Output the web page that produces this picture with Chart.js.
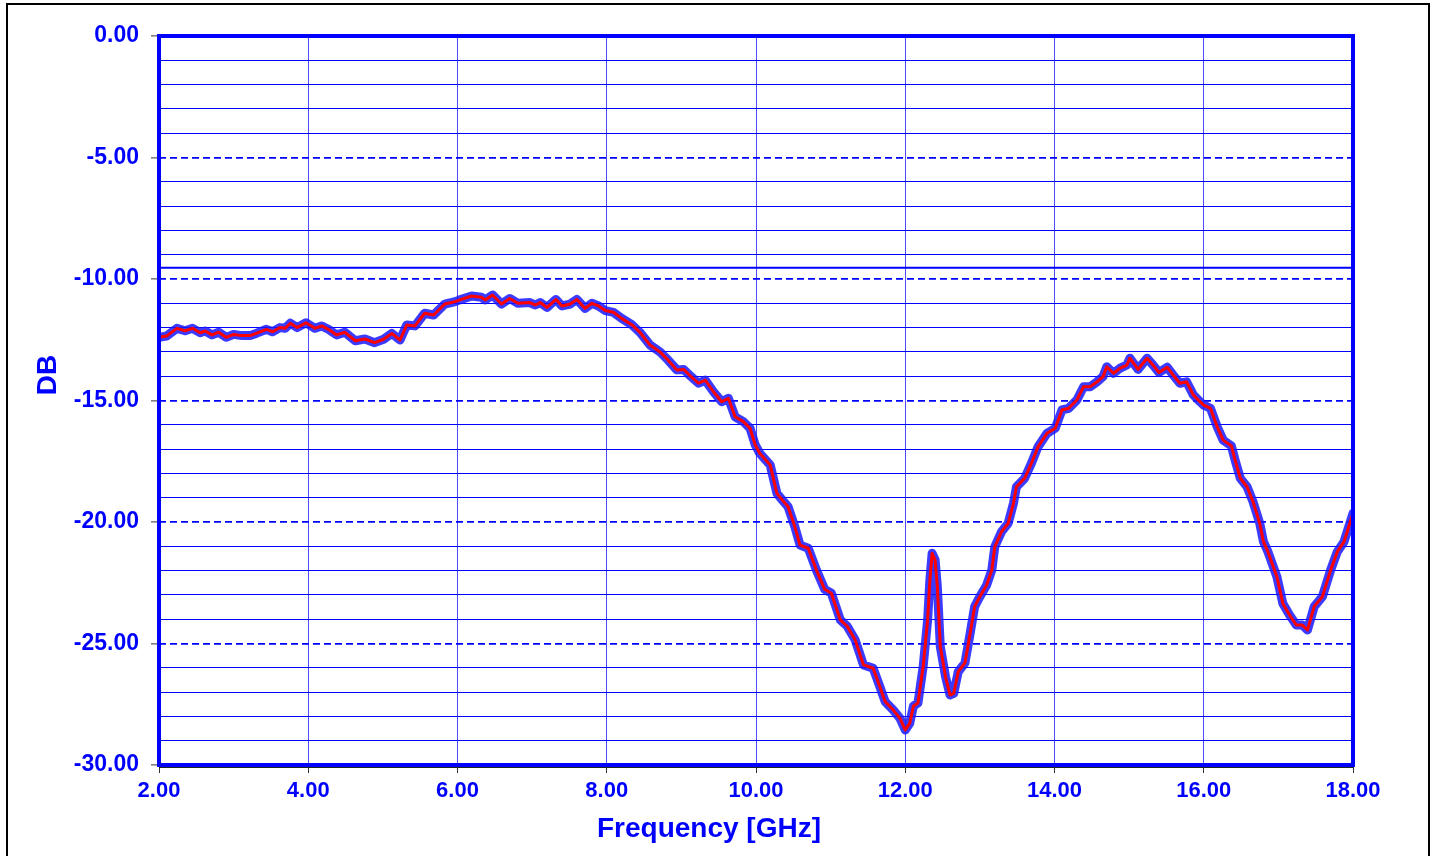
<!DOCTYPE html>
<html>
<head>
<meta charset="utf-8">
<script src="https://cdn.jsdelivr.net/npm/chart.js@4.4.1/dist/chart.umd.min.js"></script>
<style>
  body { margin: 0; background: #fff; }
  #wrap { position: relative; width: 1433px; height: 856px; }
  #frame { position: absolute; left: 6px; top: 3px; width: 1420px; height: 900px; border: 2px solid #000; pointer-events: none; }
</style>
</head>
<body>
<div id="wrap">
  <canvas id="rl"></canvas>
  <div id="frame"></div>
</div>
<script>
const freq = [
  2.00, 2.10, 2.24, 2.35, 2.45, 2.55, 2.62, 2.71, 2.80, 2.90,
  3.00, 3.11, 3.22, 3.31, 3.44, 3.52, 3.62, 3.69, 3.76, 3.85,
  3.97, 4.09, 4.18, 4.27, 4.38, 4.49, 4.63, 4.76, 4.89, 5.01,
  5.12, 5.23, 5.32, 5.43, 5.56, 5.68, 5.83, 5.97, 6.03, 6.19,
  6.32, 6.37, 6.47, 6.59, 6.70, 6.81, 6.97, 7.04, 7.11, 7.20,
  7.32, 7.40, 7.51, 7.60, 7.71, 7.80, 7.89, 7.98, 8.09, 8.20,
  8.34, 8.45, 8.58, 8.71, 8.82, 8.94, 9.03, 9.12, 9.23, 9.32,
  9.43, 9.54, 9.63, 9.72, 9.83, 9.92, 9.99, 10.05, 10.19, 10.28,
  10.37, 10.43, 10.52, 10.59, 10.70, 10.81, 10.92, 11.01, 11.13, 11.22,
  11.33, 11.44, 11.57, 11.66, 11.73, 11.84, 11.93, 12.00, 12.06, 12.11,
  12.17, 12.24, 12.30, 12.33, 12.36, 12.40, 12.43, 12.47, 12.54, 12.60,
  12.65, 12.71, 12.80, 12.87, 12.93, 13.00, 13.09, 13.16, 13.20, 13.29,
  13.38, 13.45, 13.49, 13.60, 13.69, 13.78, 13.90, 14.01, 14.10, 14.19,
  14.30, 14.39, 14.48, 14.57, 14.65, 14.70, 14.79, 14.88, 14.97, 15.01,
  15.12, 15.24, 15.32, 15.40, 15.51, 15.59, 15.68, 15.77, 15.86, 15.95,
  16.00, 16.09, 16.18, 16.26, 16.37, 16.42, 16.49, 16.58, 16.66, 16.75,
  16.80, 16.86, 16.98, 17.06, 17.15, 17.24, 17.32, 17.39, 17.48, 17.59,
  17.70, 17.79, 17.88, 18.00
];
const db = [
  -12.40, -12.35, -12.03, -12.13, -12.03, -12.21, -12.14, -12.30, -12.19, -12.40,
  -12.28, -12.33, -12.33, -12.23, -12.07, -12.17, -12.00, -12.03, -11.82, -12.00,
  -11.80, -12.03, -11.93, -12.07, -12.30, -12.19, -12.54, -12.47, -12.62, -12.48,
  -12.24, -12.51, -11.89, -11.93, -11.41, -11.48, -11.03, -10.93, -10.86, -10.70,
  -10.75, -10.86, -10.66, -11.03, -10.80, -11.00, -10.97, -11.07, -10.97, -11.17,
  -10.84, -11.11, -11.03, -10.84, -11.21, -11.00, -11.11, -11.30, -11.37, -11.62,
  -11.89, -12.21, -12.72, -12.99, -13.33, -13.74, -13.72, -13.99, -14.29, -14.16,
  -14.64, -15.05, -14.91, -15.67, -15.87, -16.14, -16.83, -17.17, -17.65, -18.82,
  -19.16, -19.37, -20.19, -20.95, -21.08, -21.98, -22.77, -22.93, -24.03, -24.28,
  -24.86, -25.88, -26.02, -26.78, -27.39, -27.74, -28.08, -28.56, -28.28, -27.57,
  -27.45, -25.95, -24.03, -22.39, -21.29, -21.56, -22.66, -25.13, -26.37, -27.12,
  -27.05, -26.16, -25.80, -24.58, -23.48, -23.07, -22.60, -21.98, -21.02, -20.40,
  -20.05, -19.23, -18.55, -18.20, -17.59, -16.90, -16.35, -16.14, -15.39, -15.32,
  -14.98, -14.43, -14.43, -14.23, -14.02, -13.61, -13.88, -13.67, -13.54, -13.26,
  -13.72, -13.26, -13.54, -13.85, -13.63, -13.95, -14.29, -14.23, -14.77, -15.05,
  -15.19, -15.32, -16.08, -16.63, -16.87, -17.45, -18.20, -18.55, -19.16, -20.05,
  -20.81, -21.22, -22.25, -23.35, -23.83, -24.24, -24.24, -24.44, -23.48, -23.07,
  -21.98, -21.22, -20.81, -19.64
];
// 2:1 VSWR reference level
const vswrLevel = -9.54;
const xRange = [2, 18];
const yRange = [-30, 0];

const BLUE = '#0000ff';
const FONT = "'Liberation Sans', Arial, sans-serif";

const pts = freq.map((f, i) => ({ x: f, y: db[i] }));

// frame round the plot area + axis titles
const frameAndTitles = {
  id: 'frameAndTitles',
  afterDatasetsDraw(chart) {
    const { ctx, chartArea: a } = chart;
    ctx.save();
    ctx.strokeStyle = '#222';
    ctx.lineWidth = 1;
    ctx.beginPath();
    ctx.moveTo(a.left, a.bottom + 2.5);
    ctx.lineTo(a.right, a.bottom + 2.5);
    ctx.stroke();
    ctx.strokeStyle = BLUE;
    ctx.lineWidth = 4;
    ctx.strokeRect(a.left, a.top, a.right - a.left, a.bottom - a.top);

    ctx.fillStyle = BLUE;
    ctx.font = 'bold 28px ' + FONT;
    ctx.textAlign = 'center';
    ctx.textBaseline = 'middle';
    ctx.fillText('Frequency [GHz]', 709, 829);
    ctx.translate(48, 375);
    ctx.rotate(-Math.PI / 2);
    ctx.fillText('DB', 0, 0);
    ctx.restore();
  }
};

new Chart(document.getElementById('rl'), {
  type: 'line',
  data: {
    datasets: [
      {
        data: pts,
        borderColor: '#ff0000',
        borderWidth: 3,
        borderJoinStyle: 'round',
        borderCapStyle: 'round',
        pointRadius: 0,
        tension: 0,
        order: 0
      },
      {
        data: pts,
        borderColor: 'rgba(25,25,255,0.85)',
        borderWidth: 9,
        borderJoinStyle: 'round',
        borderCapStyle: 'round',
        pointRadius: 0,
        tension: 0,
        order: 1
      },
      {
        data: [{ x: xRange[0], y: vswrLevel }, { x: xRange[1], y: vswrLevel }],
        borderColor: BLUE,
        borderWidth: 2,
        pointRadius: 0,
        order: 2
      }
    ]
  },
  options: {
    responsive: true,
    maintainAspectRatio: false,
    animation: false,
    events: [],
    layout: { padding: { left: 0, top: 36, right: 80, bottom: 0 } },
    plugins: { legend: { display: false }, tooltip: { enabled: false } },
    scales: {
      x: {
        type: 'linear',
        min: xRange[0],
        max: xRange[1],
        afterFit(s) { s.height = 91; },
        ticks: {
          stepSize: 2,
          color: BLUE,
          padding: 5,
          font: { family: FONT, size: 22, weight: 'bold' },
          callback: v => v.toFixed(2)
        },
        grid: {
          color: 'rgba(0,0,255,0.7)',
          lineWidth: 1,
          tickLength: 8,
          tickColor: '#333',
          tickWidth: 1
        },
        border: { display: false }
      },
      y: {
        min: yRange[0],
        max: yRange[1],
        afterFit(s) { s.width = 159; },
        ticks: {
          stepSize: 1,
          autoSkip: false,
          color: BLUE,
          padding: 12,
          font: { family: FONT, size: 23, weight: 'bold' },
          callback: v => (Math.round(v) % 5 === 0 ? v.toFixed(2) : '')
        },
        grid: {
          color: BLUE,
          lineWidth: c => (Math.round(c.tick.value) % 5 === 0 ? 1.8 : 1),
          tickLength: 8,
          tickColor: c => (Math.round(c.tick.value) % 5 === 0 ? '#333' : 'rgba(0,0,0,0)'),
          tickWidth: 1
        },
        border: {
          display: false,
          dash: c => (Math.round(c.tick.value) % 5 === 0 ? [7, 4] : [])
        }
      }
    }
  },
  plugins: [frameAndTitles]
});
</script>
</body>
</html>
